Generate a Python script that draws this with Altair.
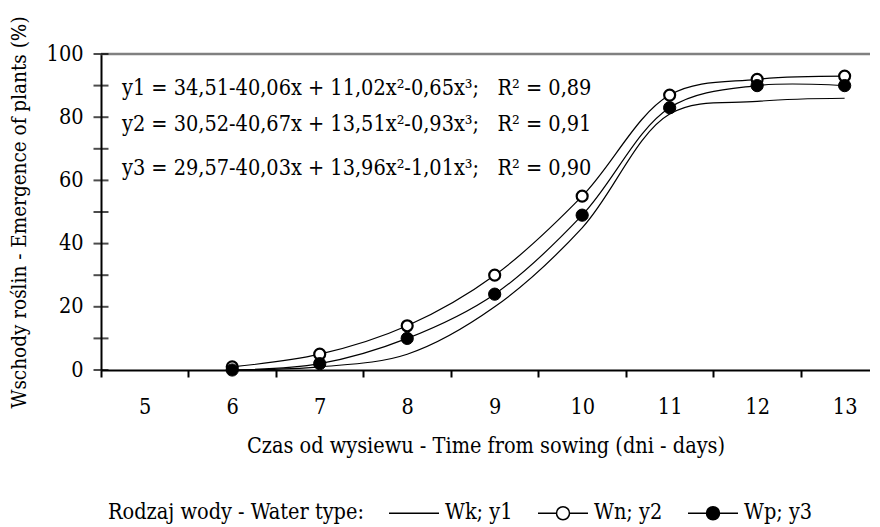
import altair as alt
import pandas as pd

# ---------------- data ----------------
days = [6, 7, 8, 9, 10, 11, 12, 13]
wk_y1 = [0, 1, 5, 20, 45, 81, 85, 86]      # line only (no markers)
wn_y2 = [1, 5, 14, 30, 55, 87, 92, 93]     # open circles
wp_y3 = [0, 2, 10, 24, 49, 83, 90, 90]     # filled circles
series_names = ["Wk; y1", "Wn; y2", "Wp; y3"]

x_tick_marks = [4.5, 5.5, 6.5, 7.5, 8.5, 9.5, 10.5, 11.5, 12.5]
y_labels = [0, 20, 40, 60, 80, 100]
y_tick_marks = [0, 10, 20, 30, 40, 50, 60, 70, 80, 90, 100]

NB = "\u00a0"
equations = [
    "y1 = 34,51-40,06x + 11,02x²-0,65x³;" + NB * 3 + "R² = 0,89",
    "y2 = 30,52-40,67x + 13,51x²-0,93x³;" + NB * 3 + "R² = 0,91",
    "y3 = 29,57-40,03x + 13,96x²-1,01x³;" + NB * 3 + "R² = 0,90",
]
# annotation anchors (data coordinates)
eq_x = 4.74
eq_y = [89.0, 77.4, 63.7]

x_title = "Czas od wysiewu - Time from sowing (dni - days)"
y_title = "Wschody roślin - Emergence of plants (%)"
legend_title = "Rodzaj wody - Water type:"

FONT = "DejaVu Serif Condensed, DejaVu Serif"
FS = 21.5
FS_YT = 20.5
BAND = 87.5  # pixel width of one day on the x axis

# ---------------- tables ----------------
rows = []
for name, vals in zip(series_names, [wk_y1, wn_y2, wp_y3]):
    for d, v in zip(days, vals):
        rows.append({"day": d, "value": v, "series": name})
df = pd.DataFrame(rows)

x_scale = alt.Scale(domain=[4.5, 13.29], nice=False, zero=False)
y_scale = alt.Scale(domain=[0, 100], nice=False, zero=False)

x_axis = alt.Axis(
    values=x_tick_marks,
    labelExpr="format(datum.value + 0.5, 'd')",
    labelOffset=BAND / 2,
    tickSize=7, tickWidth=2, tickColor="black",
    domainColor="black", domainWidth=2,
    labelFont=FONT, labelFontSize=FS, labelColor="black", labelPadding=19,
    labelFlush=False, labelOverlap=False,
    grid=False,
    titleFont=FONT, titleFontSize=FS, titleFontWeight="normal", titleColor="black",
    titlePadding=18,
)
y_axis = alt.Axis(
    values=y_labels, ticks=False,
    domainColor="black", domainWidth=2,
    labelFont=FONT, labelFontSize=FS, labelColor="black", labelPadding=18,
    grid=False,
    titleFont=FONT, titleFontSize=FS_YT, titleFontWeight="normal", titleColor="black",
    titlePadding=17,
)

X = alt.X("day:Q", scale=x_scale, axis=x_axis, title=x_title)
Y = alt.Y("value:Q", scale=y_scale, axis=y_axis, title=y_title)

lines = alt.Chart(df).mark_line(
    color="black", strokeWidth=1.2, interpolate="catmull-rom"
).encode(x=X, y=Y, detail="series:N")

open_pts = alt.Chart(df).transform_filter(
    alt.datum.series == "Wn; y2"
).mark_point(
    shape="circle", size=120, filled=True, fill="white", stroke="black",
    strokeWidth=2.2, opacity=1
).encode(x=X, y=Y)

filled_pts = alt.Chart(df).transform_filter(
    alt.datum.series == "Wp; y3"
).mark_point(
    shape="circle", size=150, filled=True, fill="black", stroke="black",
    strokeWidth=1, opacity=1
).encode(x=X, y=Y)

# top border line of the plot area
top_line = alt.Chart(pd.DataFrame({"value": [100]})).mark_rule(
    color="#808080", strokeWidth=2.5
).encode(y=Y)

# crossing y tick marks
yticks = alt.Chart(pd.DataFrame({"value": y_tick_marks})).mark_tick(
    orient="horizontal", size=15, thickness=2, color="black"
).encode(x=alt.datum(4.5, scale=x_scale), y=Y)

eq_df = pd.DataFrame({"eq": equations, "day": [eq_x] * 3, "value": eq_y})
eq_text = alt.Chart(eq_df).mark_text(
    align="left", baseline="middle", font=FONT, fontSize=FS, color="black"
).encode(x=X, y=Y, text="eq:N")

# legend (symbols only, drawn through an invisible layer)
# symbol box is 20 px (scale 10 px per unit); the path reaches beyond it
r = 0.65
hw = 2.5
path_line = f"M{-hw},0L{hw},0"
path_circ = (f"M{-hw},0L{-r},0M{r},0L{hw},0"
             f"M{-r},0A{r},{r},0,1,1,{r},0A{r},{r},0,1,1,{-r},0Z")
leg = alt.Legend(
    title=legend_title, orient="none", legendX=7, legendY=448,
    direction="horizontal", titleOrient="left", titlePadding=39,
    titleLimit=600, labelLimit=300,
    titleFont=FONT, titleFontSize=FS, titleFontWeight="normal", titleColor="black",
    titleBaseline="middle", titleAnchor="middle",
    labelFont=FONT, labelFontSize=FS, labelColor="black", labelOffset=20,
    columnPadding=22, symbolSize=400, symbolStrokeColor="black",
    symbolStrokeWidth=1.5, symbolOpacity=1,
)
leg_df = pd.DataFrame({"series": series_names, "day": [13] * 3, "value": [93] * 3})
legend_layer = alt.Chart(leg_df).mark_point(
    filled=False, opacity=0, strokeWidth=1.5
).encode(
    x=X, y=Y,
    shape=alt.Shape("series:N", scale=alt.Scale(domain=series_names,
                    range=[path_line, path_circ, path_circ]), legend=leg),
    fill=alt.Fill("series:N", scale=alt.Scale(domain=series_names,
                  range=["transparent", "white", "black"]), legend=leg),
    stroke=alt.Stroke("series:N", scale=alt.Scale(domain=series_names,
                      range=["black", "black", "black"]), legend=leg),
)

chart = alt.layer(
    top_line, lines, open_pts, filled_pts, yticks, eq_text, legend_layer
).properties(
    width=769, height=316,
    padding={"left": 93, "top": 46, "right": 0, "bottom": 156},
    autosize=alt.AutoSizeParams(type="none"),
    background="white",
).configure_view(stroke=None)

chart.save("out.html", embed_options={"renderer": "svg", "actions": False})
